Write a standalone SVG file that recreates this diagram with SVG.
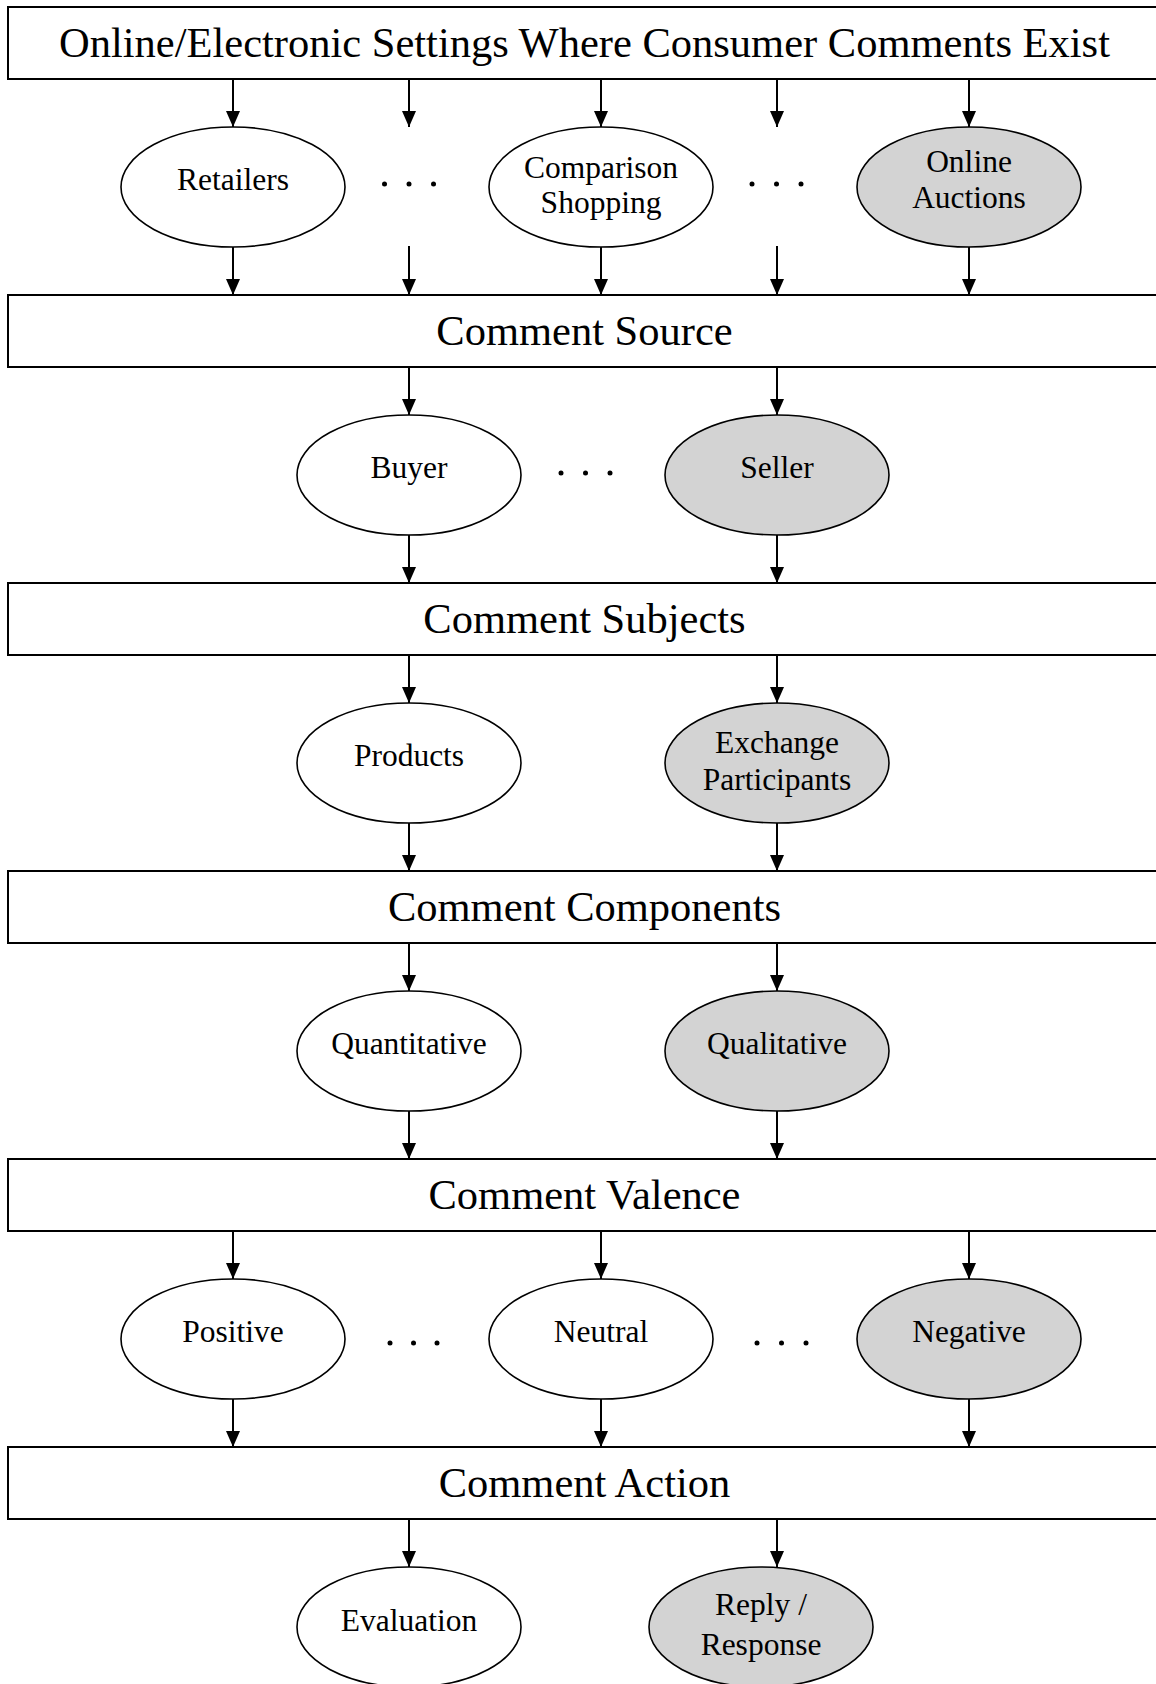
<svg xmlns="http://www.w3.org/2000/svg" width="1156" height="1684" viewBox="0 0 1156 1684">
<defs>
<style>
.box{fill:#fff;stroke:#000;stroke-width:2}
.el{fill:#fff;stroke:#000;stroke-width:1.6}
.gr{fill:#d3d3d3}
.bt{font-family:"Liberation Serif","Times New Roman",serif;font-size:42.5px;text-anchor:middle;fill:#000}
.et{font-family:"Liberation Serif","Times New Roman",serif;font-size:31.5px;text-anchor:middle;fill:#000}
.ar{stroke:#000;stroke-width:2;fill:none;marker-end:url(#ah)}
.dot{fill:#000}
</style>
<marker id="ah" markerUnits="userSpaceOnUse" viewBox="0 0 16 14" markerWidth="16" markerHeight="14" refX="16" refY="7" orient="auto">
<path d="M0,0 L16,7 L0,14 z" fill="#000"/>
</marker>
</defs>
<rect width="1156" height="1684" fill="#fff"/>

<g id="connectors">
<!-- box1 to row1 -->
<line class="ar" x1="233" y1="79" x2="233" y2="127"/>
<line class="ar" x1="409" y1="79" x2="409" y2="127"/>
<line class="ar" x1="601" y1="79" x2="601" y2="127"/>
<line class="ar" x1="777" y1="79" x2="777" y2="127"/>
<line class="ar" x1="969" y1="79" x2="969" y2="127"/>
<!-- row1 to box2 -->
<line class="ar" x1="233" y1="247" x2="233" y2="295"/>
<line class="ar" x1="409" y1="246" x2="409" y2="295"/>
<line class="ar" x1="601" y1="247" x2="601" y2="295"/>
<line class="ar" x1="777" y1="246" x2="777" y2="295"/>
<line class="ar" x1="969" y1="247" x2="969" y2="295"/>
<!-- box2 to row2 -->
<line class="ar" x1="409" y1="367" x2="409" y2="415"/>
<line class="ar" x1="777" y1="367" x2="777" y2="415"/>
<line class="ar" x1="409" y1="535" x2="409" y2="583"/>
<line class="ar" x1="777" y1="535" x2="777" y2="583"/>
<!-- box3 to row3 -->
<line class="ar" x1="409" y1="655" x2="409" y2="703"/>
<line class="ar" x1="777" y1="655" x2="777" y2="703"/>
<line class="ar" x1="409" y1="823" x2="409" y2="871"/>
<line class="ar" x1="777" y1="823" x2="777" y2="871"/>
<!-- box4 to row4 -->
<line class="ar" x1="409" y1="943" x2="409" y2="991"/>
<line class="ar" x1="777" y1="943" x2="777" y2="991"/>
<line class="ar" x1="409" y1="1111" x2="409" y2="1159"/>
<line class="ar" x1="777" y1="1111" x2="777" y2="1159"/>
<!-- box5 to row5 -->
<line class="ar" x1="233" y1="1231" x2="233" y2="1279"/>
<line class="ar" x1="601" y1="1231" x2="601" y2="1279"/>
<line class="ar" x1="969" y1="1231" x2="969" y2="1279"/>
<line class="ar" x1="233" y1="1399" x2="233" y2="1447"/>
<line class="ar" x1="601" y1="1399" x2="601" y2="1447"/>
<line class="ar" x1="969" y1="1399" x2="969" y2="1447"/>
<!-- box6 to row6 -->
<line class="ar" x1="409" y1="1519" x2="409" y2="1567"/>
<line class="ar" x1="777" y1="1519" x2="777" y2="1567"/>
</g>

<g id="box-settings"><rect class="box" x="8" y="7" width="1160" height="72"/><text class="bt" x="584.5" y="57">Online/Electronic Settings Where Consumer Comments Exist</text></g>
<g id="box-source"><rect class="box" x="8" y="295" width="1160" height="72"/><text class="bt" x="584.5" y="345">Comment Source</text></g>
<g id="box-subjects"><rect class="box" x="8" y="583" width="1160" height="72"/><text class="bt" x="584.5" y="633">Comment Subjects</text></g>
<g id="box-components"><rect class="box" x="8" y="871" width="1160" height="72"/><text class="bt" x="584.5" y="921">Comment Components</text></g>
<g id="box-valence"><rect class="box" x="8" y="1159" width="1160" height="72"/><text class="bt" x="584.5" y="1209">Comment Valence</text></g>
<g id="box-action"><rect class="box" x="8" y="1447" width="1160" height="72"/><text class="bt" x="584.5" y="1497">Comment Action</text></g>

<g id="retailers"><ellipse class="el" cx="233" cy="187" rx="112" ry="60"/><text class="et" x="233" y="190">Retailers</text></g>
<g id="dots1"><circle class="dot" cx="384.5" cy="184" r="2.5"/><circle class="dot" cx="409" cy="184" r="2.5"/><circle class="dot" cx="433.5" cy="184" r="2.5"/></g>
<g id="comparison"><ellipse class="el" cx="601" cy="187" rx="112" ry="60"/><text class="et" x="601" y="178">Comparison</text><text class="et" x="601" y="213">Shopping</text></g>
<g id="dots2"><circle class="dot" cx="752" cy="184" r="2.5"/><circle class="dot" cx="776.5" cy="184" r="2.5"/><circle class="dot" cx="801" cy="184" r="2.5"/></g>
<g id="auctions"><ellipse class="el gr" cx="969" cy="187" rx="112" ry="60"/><text class="et" x="969" y="172">Online</text><text class="et" x="969" y="208">Auctions</text></g>

<g id="buyer"><ellipse class="el" cx="409" cy="475" rx="112" ry="60"/><text class="et" x="409" y="478">Buyer</text></g>
<g id="dots3"><circle class="dot" cx="561" cy="473" r="2.5"/><circle class="dot" cx="585.5" cy="473" r="2.5"/><circle class="dot" cx="610" cy="473" r="2.5"/></g>
<g id="seller"><ellipse class="el gr" cx="777" cy="475" rx="112" ry="60"/><text class="et" x="777" y="478">Seller</text></g>

<g id="products"><ellipse class="el" cx="409" cy="763" rx="112" ry="60"/><text class="et" x="409" y="765.5">Products</text></g>
<g id="participants"><ellipse class="el gr" cx="777" cy="763" rx="112" ry="60"/><text class="et" x="777" y="753">Exchange</text><text class="et" x="777" y="790">Participants</text></g>

<g id="quantitative"><ellipse class="el" cx="409" cy="1051" rx="112" ry="60"/><text class="et" x="409" y="1053.5">Quantitative</text></g>
<g id="qualitative"><ellipse class="el gr" cx="777" cy="1051" rx="112" ry="60"/><text class="et" x="777" y="1053.5">Qualitative</text></g>

<g id="positive"><ellipse class="el" cx="233" cy="1339" rx="112" ry="60"/><text class="et" x="233" y="1342">Positive</text></g>
<g id="dots4"><circle class="dot" cx="390" cy="1343" r="2.5"/><circle class="dot" cx="413.5" cy="1343" r="2.5"/><circle class="dot" cx="437" cy="1343" r="2.5"/></g>
<g id="neutral"><ellipse class="el" cx="601" cy="1339" rx="112" ry="60"/><text class="et" x="601" y="1342">Neutral</text></g>
<g id="dots5"><circle class="dot" cx="757" cy="1343" r="2.5"/><circle class="dot" cx="781.5" cy="1343" r="2.5"/><circle class="dot" cx="806" cy="1343" r="2.5"/></g>
<g id="negative"><ellipse class="el gr" cx="969" cy="1339" rx="112" ry="60"/><text class="et" x="969" y="1342">Negative</text></g>

<g id="evaluation"><ellipse class="el" cx="409" cy="1627" rx="112" ry="60"/><text class="et" x="409" y="1631">Evaluation</text></g>
<g id="reply"><ellipse class="el gr" cx="761" cy="1627" rx="112" ry="60"/><text class="et" x="761" y="1615">Reply /</text><text class="et" x="761" y="1655">Response</text></g>
</svg>
